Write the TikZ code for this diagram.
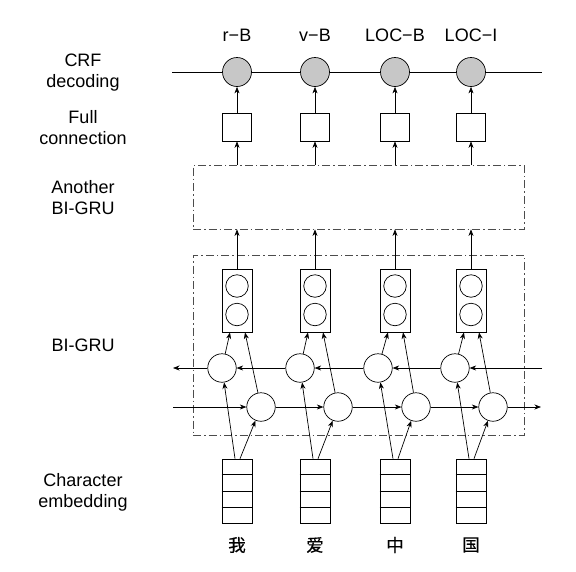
\documentclass[tikz,border=0pt]{standalone}
\usepackage{fontspec}
\setmainfont{Liberation Sans}
\newfontfamily\cjk[FakeBold=0.4]{Noto Sans CJK SC}
\usetikzlibrary{arrows.meta}
\tikzset{
  arr/.style={-{Stealth[length=6.5pt,width=5pt,inset=2pt]}, line width=0.7pt},
  ddbox/.style={rectangle, draw=black!70, line width=0.8pt, dash pattern=on 8pt off 3pt on 1.5pt off 3pt, inner sep=0},
  crfnode/.style={circle, draw, line width=0.7pt, fill=black!22, minimum size=29pt, inner sep=0},
  fcbox/.style={rectangle, draw, line width=0.7pt, minimum width=29pt, minimum height=28pt, inner sep=0},
  grunode/.style={circle, draw, line width=0.7pt, minimum size=28.5pt, inner sep=0},
  stackbox/.style={rectangle, draw, line width=0.8pt, minimum width=30pt, minimum height=63pt, inner sep=0},
  smallc/.style={circle, draw, line width=0.7pt, minimum size=22.5pt, inner sep=0},
  embbox/.style={rectangle, draw, line width=0.7pt, minimum width=30pt, minimum height=64pt, inner sep=0},
  lbl/.style={font=\fontsize{18}{21}\selectfont, align=center, inner sep=0},
  chr/.style={font=\cjk\fontsize{17.5}{17.5}\selectfont, inner sep=0},
}
\begin{document}
\begin{tikzpicture}[x=1pt,y=-1pt]
\useasboundingbox (0,0) rectangle (576,571);

% left labels
\node[lbl] (lcrf) at (83,73) {CRF\\decoding};
\node[lbl] (lfc) at (83,128) {Full\\connection};
\node[lbl] (lab) at (83,198) {Another\\BI-GRU};
\node[lbl] (lbg) at (83,345) {BI-GRU};
\node[lbl] (lce) at (83,492) {Character\\embedding};

% boxes
\node[ddbox, minimum width=331pt, minimum height=64pt] (ab) at (358.5,197) {};
\node[ddbox, minimum width=331pt, minimum height=180pt] (bb) at (358.5,345) {};

% chain ends
\coordinate (crfL) at (172,72);
\coordinate (crfR) at (542,72);
\coordinate (bR) at (542,368);
\coordinate (bL) at (173,368);
\coordinate (fL) at (173,407);
\coordinate (fR) at (541,407);

% columns
\foreach \i/\cx/\bx/\fx/\tag/\ch in {1/237/222/261/r−B/我, 2/315/300/338/v−B/爱, 3/395/378/416/LOC−B/中, 4/471/455/493/LOC−I/国}{
  \node[lbl] (t\i) at (\cx,35) {\tag};
  \node[crfnode] (g\i) at (\cx,72) {};
  \node[fcbox] (q\i) at (\cx,127) {};
  \node[stackbox] (s\i) at (\cx,300.5) {};
  \node[smallc] (sa\i) at (\cx,286) {};
  \node[smallc] (sb\i) at (\cx,314.5) {};
  \node[grunode] (b\i) at (\bx,368) {};
  \node[grunode] (f\i) at (\fx,407) {};
  \node[embbox] (e\i) at (\cx,491) {};
  \draw[line width=0.7pt] ([yshift=-16pt]e\i.north west) -- ([yshift=-16pt]e\i.north east);
  \draw[line width=0.7pt] (e\i.west) -- (e\i.east);
  \draw[line width=0.7pt] ([yshift=16pt]e\i.south west) -- ([yshift=16pt]e\i.south east);
  \node[chr] (w\i) at (\cx,545) {\ch};
  % vertical arrows
  \draw[arr] (q\i.north) -- (g\i.south);
  \draw[arr] (q\i.south |- ab.north) -- (q\i.south);
  \draw[arr] (s\i.north) -- (s\i.north |- ab.south);
  % GRU to stack
  \draw[arr] (b\i) -- ([xshift=-7pt]s\i.south);
  \draw[arr] (f\i) -- ([xshift=8pt]s\i.south);
  % embedding to GRU
  \draw[arr] ([xshift=-2pt]e\i.north) -- (b\i);
  \draw[arr] ([xshift=3pt]e\i.north) -- (f\i);
}

% CRF chain
\draw[line width=0.7pt] (crfL) -- (g1) -- (g2) -- (g3) -- (g4) -- (crfR);

% backward chain
\draw[arr] (bR) -- (b4);
\draw[arr] (b4) -- (b3);
\draw[arr] (b3) -- (b2);
\draw[arr] (b2) -- (b1);
\draw[arr] (b1) -- (bL);

% forward chain
\draw[arr] (fL) -- (f1);
\draw[arr] (f1) -- (f2);
\draw[arr] (f2) -- (f3);
\draw[arr] (f3) -- (f4);
\draw[arr] (f4) -- (fR);
\end{tikzpicture}
\end{document}
